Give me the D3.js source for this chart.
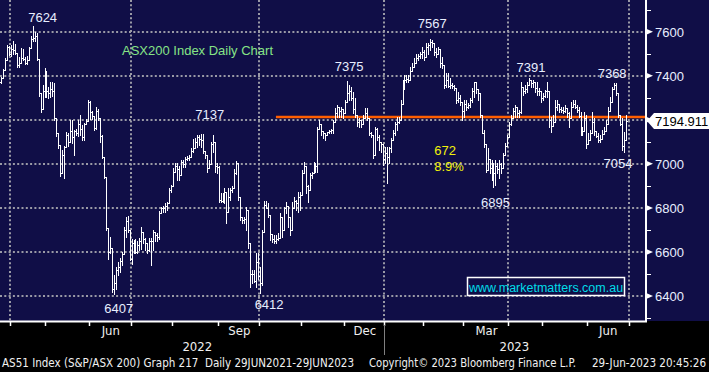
<!DOCTYPE html>
<html>
<head>
<meta charset="utf-8">
<script src="https://cdn.jsdelivr.net/npm/d3@7"></script>
<style>
  html, body { margin: 0; padding: 0; background: #000; }
  svg { display: block; }
  text { font-family: "Liberation Sans", Arial, sans-serif; }
  .narrow { font-family: "Liberation Sans Narrow", "DejaVu Sans Condensed", "Liberation Sans", sans-serif; }
</style>
</head>
<body>
<div id="chart"></div>
<script>
// Chart size
const width = 709;
const height = 372;
const plotRight = 645;
const plotBottom = 321;
const navy = "#100e47";

// Daily bars, one month per array: [high, low, close]
const firstOpen = 7370;
const mar22 = [[7395,7365,7390],[7430,7390,7425],[7480,7426,7470],[7540,7470,7530],[7535,7495,7500]];
const apr22 = [[7540,7490,7520],[7560,7500,7515],[7545,7500,7505],[7505,7440,7450],[7485,7440,7460],[7525,7460,7480],
  [7520,7470,7475],[7485,7455,7460],[7490,7455,7470],[7532,7470,7525],[7580,7525,7565],[7624,7560,7570],
  [7600,7560,7580],[7595,7470,7475],[7478,7310,7320],[7322,7237,7250],[7358,7250,7330],[7435,7305,7420]];
const may22 = [[7420,7305,7330],[7350,7300,7320],[7370,7305,7340],[7370,7310,7330],[7365,7200,7210],[7210,7125,7140],
  [7140,7070,7085],[7080,6945,6960],[7065,6960,7040],[7080,6935,7075],[7145,7075,7130],[7140,7080,7100],
  [7200,7100,7150],[7200,7095,7120],[7155,7040,7150],[7160,7130,7140],[7200,7125,7180],[7220,7130,7160],
  [7175,7110,7120],[7185,7110,7180],[7205,7180,7195],[7290,7195,7280]];
const jun22 = [[7285,7205,7235],[7240,7205,7215],[7215,7155,7165],[7260,7160,7240],[7250,7200,7210],[7210,7100,7125],
  [7130,7025,7030],[7030,6935,6940],[6935,6700,6710],[6710,6570,6600],[6670,6594,6620],[6620,6420,6430],
  [6495,6407,6460],[6530,6430,6520],[6556,6495,6530],[6571,6510,6560],[6600,6540,6590],[6715,6600,6700],
  [6760,6670,6740],[6765,6690,6700],[6700,6565,6570]];
const jul22 = [[6660,6545,6640],[6655,6595,6625],[6660,6594,6600],[6650,6594,6630],[6665,6610,6650],[6715,6615,6690],
  [6690,6640,6660],[6665,6610,6640],[6640,6594,6610],[6662,6605,6650],[6665,6541,6650],[6700,6609,6690],
  [6692,6650,6675],[6685,6650,6670],[6785,6660,6775],[6805,6775,6800],[6810,6783,6800],[6821,6783,6810],
  [6828,6790,6820],[6890,6820,6880],[6905,6870,6900]];
const aug22 = [[6980,6900,6965],[7002,6972,6990],[7002,6927,6975],[6990,6927,6950],[7017,6950,7010],[7017,6985,7000],
  [7032,6987,7020],[7035,7017,7025],[7040,7017,7030],[7070,7030,7060],[7115,7055,7070],[7116,7078,7100],
  [7131,7075,7120],[7131,7085,7115],[7137,7078,7110],[7135,7050,7060],[7055,7025,7040],[7030,6964,6980],
  [7017,6979,7000],[7100,7010,7090],[7131,7055,7100],[7100,6964,6990],[7002,6957,6985]];
const sep22 = [[6990,6828,6835],[6866,6828,6830],[6866,6828,6840],[6889,6821,6870],[6870,6730,6780],[6889,6780,6850],
  [6889,6836,6880],[6900,6870,6890],[6975,6890,6960],[7015,6955,7005],[6915,6836,6850],[6836,6745,6760],
  [6760,6730,6745],[6760,6730,6750],[6805,6700,6790],[6707,6620,6640],[6640,6442,6500],[6518,6457,6500],
  [6518,6465,6470],[6594,6442,6555],[6594,6475,6490]];
const oct22 = [[6533,6412,6460],[6700,6450,6690],[6830,6700,6815],[6830,6798,6800],[6821,6760,6770],[6760,6654,6680],
  [6669,6647,6660],[6677,6639,6650],[6677,6639,6660],[6684,6654,6665],[6775,6669,6760],[6745,6669,6700],
  [6805,6775,6800],[6825,6775,6810],[6775,6715,6760],[6745,6677,6700],[6828,6775,6800],[6851,6798,6830],
  [6836,6790,6820],[6874,6783,6850],[6870,6790,6860]];
const nov22 = [[6972,6858,6960],[7010,6957,6990],[6987,6866,6900],[6904,6828,6880],[6957,6881,6950],[6964,6934,6960],
  [7010,6957,7000],[7002,6964,6990],[7169,6964,7160],[7199,7169,7180],[7153,7131,7150],[7146,7116,7140],
  [7138,7108,7130],[7146,7131,7145],[7153,7138,7150],[7160,7140,7155],[7199,7138,7190],[7252,7191,7230],
  [7267,7214,7260],[7259,7214,7240],[7259,7214,7250],[7244,7206,7230]];
const dec22 = [[7290,7229,7280],[7375,7282,7320],[7358,7290,7330],[7350,7290,7300],[7327,7229,7250],[7297,7214,7220],
  [7214,7172,7190],[7206,7169,7200],[7199,7169,7180],[7222,7199,7210],[7252,7214,7230],[7252,7199,7210],
  [7206,7131,7140],[7146,7123,7130],[7131,7025,7040],[7169,7040,7160],[7161,7108,7120],[7131,7063,7100],
  [7093,7055,7090],[7078,6995,7020]];
const jan23 = [[7078,7002,7050],[7078,6913,7030],[7078,7002,7070],[7116,7055,7110],[7153,7108,7140],[7191,7131,7180],
  [7214,7153,7190],[7214,7184,7200],[7290,7199,7270],[7380,7282,7340],[7403,7373,7380],[7403,7373,7385],
  [7403,7373,7380],[7441,7388,7420],[7456,7433,7440],[7479,7441,7460],[7501,7456,7480],[7501,7471,7490],
  [7509,7479,7500],[7532,7479,7510]];
const feb23 = [[7517,7471,7485],[7547,7494,7530],[7547,7501,7540],[7567,7517,7555],[7562,7532,7550],[7539,7494,7510],
  [7524,7486,7500],[7532,7509,7520],[7486,7441,7460],[7486,7433,7450],[7433,7343,7360],[7411,7350,7380],
  [7411,7350,7355],[7388,7343,7360],[7365,7343,7355],[7358,7335,7345],[7343,7275,7290],[7327,7282,7300],
  [7312,7267,7280],[7267,7199,7240]];
const mar23 = [[7290,7214,7270],[7290,7244,7260],[7275,7252,7265],[7297,7259,7290],[7343,7282,7330],[7373,7305,7370],
  [7355,7320,7340],[7335,7290,7320],[7312,7214,7220],[7214,7138,7140],[7153,7078,7090],[7078,6964,6970],
  [7070,6995,7020],[7017,6957,6980],[7017,6927,6950],[7002,6895,6960],[7017,6904,6990],[7002,6957,6975],
  [7017,6934,7000],[7002,6957,6980],[7048,7002,7040],[7093,7048,7080],[7131,7085,7120]];
const apr23 = [[7191,7131,7180],[7222,7176,7210],[7252,7214,7240],[7267,7214,7260],[7244,7214,7230],[7244,7214,7235],
  [7373,7230,7350],[7350,7312,7330],[7358,7320,7340],[7373,7327,7360],[7391,7358,7380],[7373,7350,7365],
  [7380,7350,7370],[7365,7327,7345],[7373,7312,7330],[7343,7312,7330],[7327,7282,7300]];
const may23 = [[7320,7290,7310],[7335,7305,7330],[7373,7305,7330],[7312,7169,7200],[7214,7146,7170],[7222,7184,7190],
  [7290,7214,7260],[7290,7244,7270],[7267,7237,7250],[7259,7237,7245],[7259,7229,7240],[7267,7237,7255],
  [7244,7214,7230],[7237,7169,7210],[7282,7237,7260],[7290,7259,7270],[7290,7252,7260],[7267,7237,7245],
  [7259,7214,7215],[7237,7131,7140],[7169,7131,7150],[7237,7161,7210],[7222,7070,7090]];
const jun23 = [[7138,7093,7110],[7153,7108,7140],[7237,7161,7190],[7206,7131,7150],[7138,7123,7125],[7138,7101,7110],
  [7131,7101,7115],[7153,7123,7135],[7169,7146,7150],[7199,7153,7180],[7259,7214,7240],[7305,7244,7280],
  [7350,7282,7340],[7368,7340,7360],[7365,7312,7320],[7320,7214,7220],[7214,7176,7180],[7206,7063,7080],
  [7146,7054,7110],[7222,7123,7194.911]];

const monthNames = ["Mar","Apr","May","Jun","Jul","Aug","Sep","Oct","Nov","Dec","Jan","Feb","Mar","Apr","May","Jun"];
const monthYears = [2022,2022,2022,2022,2022,2022,2022,2022,2022,2022,2023,2023,2023,2023,2023,2023];
const monthBars = [mar22,apr22,may22,jun22,jul22,aug22,sep22,oct22,nov22,dec22,jan23,feb23,mar23,apr23,may23,jun23];
const labelledMonths = ["Jun","Sep","Dec","Mar"];
const gridMonths = ["Apr","Jul","Oct","Jan"];

// Price axis
const priceTicks = [6400, 6600, 6800, 7000, 7200, 7400, 7600];
const minorTicks = [6300, 6500, 6700, 6900, 7100, 7300, 7500, 7700];
const levelLine = 7213;      // drawn horizontal level
const levelStartDay = 139;
const lastPrice = 7194.911;

// Highs / lows marked on the chart
const highMarks = [7624, 7137, 7375, 7567, 7391, 7368];
const lowMarks = [6407, 6412, 6895, 7054];
const markOffsets = {7624:[10,-4], 7137:[9,-15], 7375:[2,-10], 7567:[2,-11], 7391:[2,-6], 7368:[-2,-5],
  6407:[5,19], 6412:[9,16], 6895:[2,20], 7054:[-6,16]};

// flatten months into trading days
const days = [];
const months = [];
let prevClose = firstOpen;
monthBars.forEach((bars, mi) => {
  const start = days.length;
  bars.forEach(([h, l, c]) => {
    days.push({i: days.length, open: prevClose, high: h, low: l, close: c});
    prevClose = c;
  });
  months.push({name: monthNames[mi], year: monthYears[mi], start: start, end: days.length});
});

const x = d3.scaleLinear().domain([0, days.length - 1]).range([1, 626]);
const y = d3.scaleLinear().domain([6400, 7600]).range([296, 31.7]);

const svg = d3.select("#chart").append("svg")
    .attr("width", width)
    .attr("height", height);

svg.append("rect").attr("width", width).attr("height", height).attr("fill", "#000");
svg.append("rect").attr("width", width).attr("height", plotBottom).attr("fill", navy);

// dotted grid
const grid = svg.append("g")
    .attr("stroke", "#9a9aa6")
    .attr("stroke-width", 2)
    .attr("stroke-dasharray", "2,2.3");

grid.selectAll("line.h")
    .data(priceTicks)
    .enter().append("line")
    .attr("x1", 0).attr("x2", plotRight)
    .attr("y1", d => Math.round(y(d)))
    .attr("y2", d => Math.round(y(d)));

const gridX = months.filter(m => gridMonths.includes(m.name)).map(m => x(m.start) - 1);
gridX.push(x(days.length) + 1);
grid.selectAll("line.v")
    .data(gridX)
    .enter().append("line")
    .attr("x1", d => Math.round(d)).attr("x2", d => Math.round(d))
    .attr("y1", 0).attr("y2", plotBottom);

// level line
svg.append("line")
    .attr("x1", x(levelStartDay)).attr("x2", plotRight)
    .attr("y1", y(levelLine)).attr("y2", y(levelLine))
    .attr("stroke", "#ff5e00")
    .attr("stroke-width", 2.5);

// OHLC bars
let barPath = "";
days.forEach(d => {
  const X = Math.round(x(d.i));
  const top = Math.round(y(Math.max(d.high, d.open, d.close)));
  const bot = Math.round(y(Math.min(d.low, d.open, d.close)));
  const yo = Math.round(y(d.open)) + 0.5;
  const yc = Math.round(y(d.close)) + 0.5;
  barPath += `M${X + 0.5},${top}V${bot + 1}`;
  barPath += `M${X - 1},${yo}H${X + 1}`;
  barPath += `M${X},${yc}H${X + 2}`;
});
svg.append("path")
    .attr("d", barPath)
    .attr("fill", "none")
    .attr("stroke", "#fff")
    .attr("stroke-width", 1)
    .attr("shape-rendering", "crispEdges");

// high / low labels
const labelColor = "#e8eeff";
function markLabel(v, isHigh) {
  const d = days.find(e => (isHigh ? e.high : e.low) === v);
  const off = markOffsets[v];
  svg.append("text")
      .attr("x", x(d.i) + off[0])
      .attr("y", y(v) + off[1])
      .attr("text-anchor", "middle")
      .attr("font-size", 13)
      .attr("fill", labelColor)
      .text(v);
}
highMarks.forEach(v => markLabel(v, true));
lowMarks.forEach(v => markLabel(v, false));

// fall from the Feb high to the Mar low
const fall = 7567 - 6895;
const fallDay = days.find(e => e.high === 7567).i;
const fallText = svg.append("text")
    .attr("x", x(fallDay) + 4)
    .attr("y", y(7040))
    .attr("font-size", 13)
    .attr("fill", "#f2f20a");
fallText.append("tspan").text(fall);
fallText.append("tspan")
    .attr("x", x(fallDay) + 4).attr("dy", 16)
    .text((fall / 7567 * 100).toFixed(1) + "%");

// title and watermark
svg.append("text")
    .attr("x", 122).attr("y", 55)
    .attr("font-size", 13)
    .attr("fill", "#86e486")
    .text("ASX200 Index Daily Chart");

svg.append("rect")
    .attr("x", 467.5).attr("y", 277.5)
    .attr("width", 157).attr("height", 18)
    .attr("fill", "none")
    .attr("stroke", "#fff")
    .attr("stroke-width", 1.5);
svg.append("text")
    .attr("x", 546).attr("y", 291.5)
    .attr("text-anchor", "middle")
    .attr("font-size", 12.5)
    .attr("fill", "#00dce8")
    .text("www.marketmatters.com.au");

// right price axis
svg.append("line")
    .attr("x1", plotRight + 1).attr("x2", plotRight + 1)
    .attr("y1", 0).attr("y2", plotBottom + 1)
    .attr("stroke", "#fff").attr("stroke-width", 2);

svg.selectAll("line.minor")
    .data(minorTicks)
    .enter().append("line")
    .attr("x1", plotRight).attr("x2", plotRight + 6)
    .attr("y1", d => Math.round(y(d)) + 0.5)
    .attr("y2", d => Math.round(y(d)) + 0.5)
    .attr("stroke", "#fff");

// the last price tag sits over the 7200 label, so that label is not drawn
const yl = y(lastPrice);
const major = svg.selectAll("g.major")
    .data(priceTicks)
    .enter().append("g")
    .attr("transform", d => `translate(${plotRight},${y(d)})`);
major.append("path")
    .attr("d", "M0,-3.5L8,0L0,3.5Z")
    .attr("fill", "#fff");
major.filter(d => Math.abs(y(d) - yl) > 12)
    .append("text")
    .attr("x", 10).attr("y", 5)
    .attr("font-size", 13)
    .attr("fill", labelColor)
    .text(d => d);

// last price tag
svg.append("path")
    .attr("d", `M${plotRight + 2},${yl}L${plotRight + 9},${yl - 8}H${width}V${yl + 8}H${plotRight + 9}Z`)
    .attr("fill", "#fff");
svg.append("text")
    .attr("x", plotRight + 10).attr("y", yl + 5)
    .attr("font-size", 13)
    .attr("fill", "#000")
    .text(lastPrice.toFixed(3));

// bottom time axis
svg.append("line")
    .attr("x1", 0).attr("x2", plotRight + 2)
    .attr("y1", plotBottom + 0.5).attr("y2", plotBottom + 0.5)
    .attr("stroke", "#fff").attr("stroke-width", 2);

const tickX = months.slice(1).map(m => x(m.start) - 1);
tickX.push(x(days.length) + 1);
svg.selectAll("line.mt")
    .data(tickX)
    .enter().append("line")
    .attr("x1", d => Math.round(d) + 0.5).attr("x2", d => Math.round(d) + 0.5)
    .attr("y1", plotBottom).attr("y2", plotBottom + 5)
    .attr("stroke", "#fff").attr("stroke-width", 1.5);

svg.selectAll("text.month")
    .data(months.filter((m, i) => labelledMonths.includes(m.name) && i > 0 || (i === months.length - 1)))
    .enter().append("text")
    .attr("class", "narrow")
    .attr("x", m => (x(m.start) + x(m.end)) / 2)
    .attr("y", 335)
    .attr("text-anchor", "middle")
    .attr("font-size", 13)
    .attr("fill", "#f0f0f0")
    .text(m => m.name);

// year labels with a divider between them
const years = d3.groups(months, m => m.year);
const firstQuarter = months.find(m => m.name === "Apr");
years.forEach(([yr, ms], k) => {
  const x0 = k === 0 ? x(firstQuarter.start) : x(ms[0].start) - 1;
  const x1 = k === years.length - 1 ? plotRight : x(ms[ms.length - 1].end) - 1;
  svg.append("text")
      .attr("class", "narrow")
      .attr("x", (x0 + x1) / 2).attr("y", 351)
      .attr("text-anchor", "middle")
      .attr("font-size", 13)
      .attr("fill", "#f0f0f0")
      .text(yr);
  if (k > 0) {
    svg.append("line")
        .attr("x1", Math.round(x0) + 0.5).attr("x2", Math.round(x0) + 0.5)
        .attr("y1", 325).attr("y2", 355)
        .attr("stroke", "#808080");
  }
});

// footer
const footer = [
  ["AS51 Index (S&P/ASX 200) Graph 217  Daily 29JUN2021-29JUN2023", 2, 352],
  ["Copyright\u00A9 2023 Bloomberg Finance L.P.", 369, 207],
  ["29-Jun-2023 20:45:26", 592, 114]
];
svg.selectAll("text.foot")
    .data(footer)
    .enter().append("text")
    .attr("class", "narrow")
    .attr("x", d => d[1]).attr("y", 367)
    .attr("font-size", 12)
    .attr("fill", "#f0f0f0")
    .attr("textLength", d => d[2])
    .attr("lengthAdjust", "spacingAndGlyphs")
    .style("white-space", "pre")
    .text(d => d[0]);
</script>
</body>
</html>
